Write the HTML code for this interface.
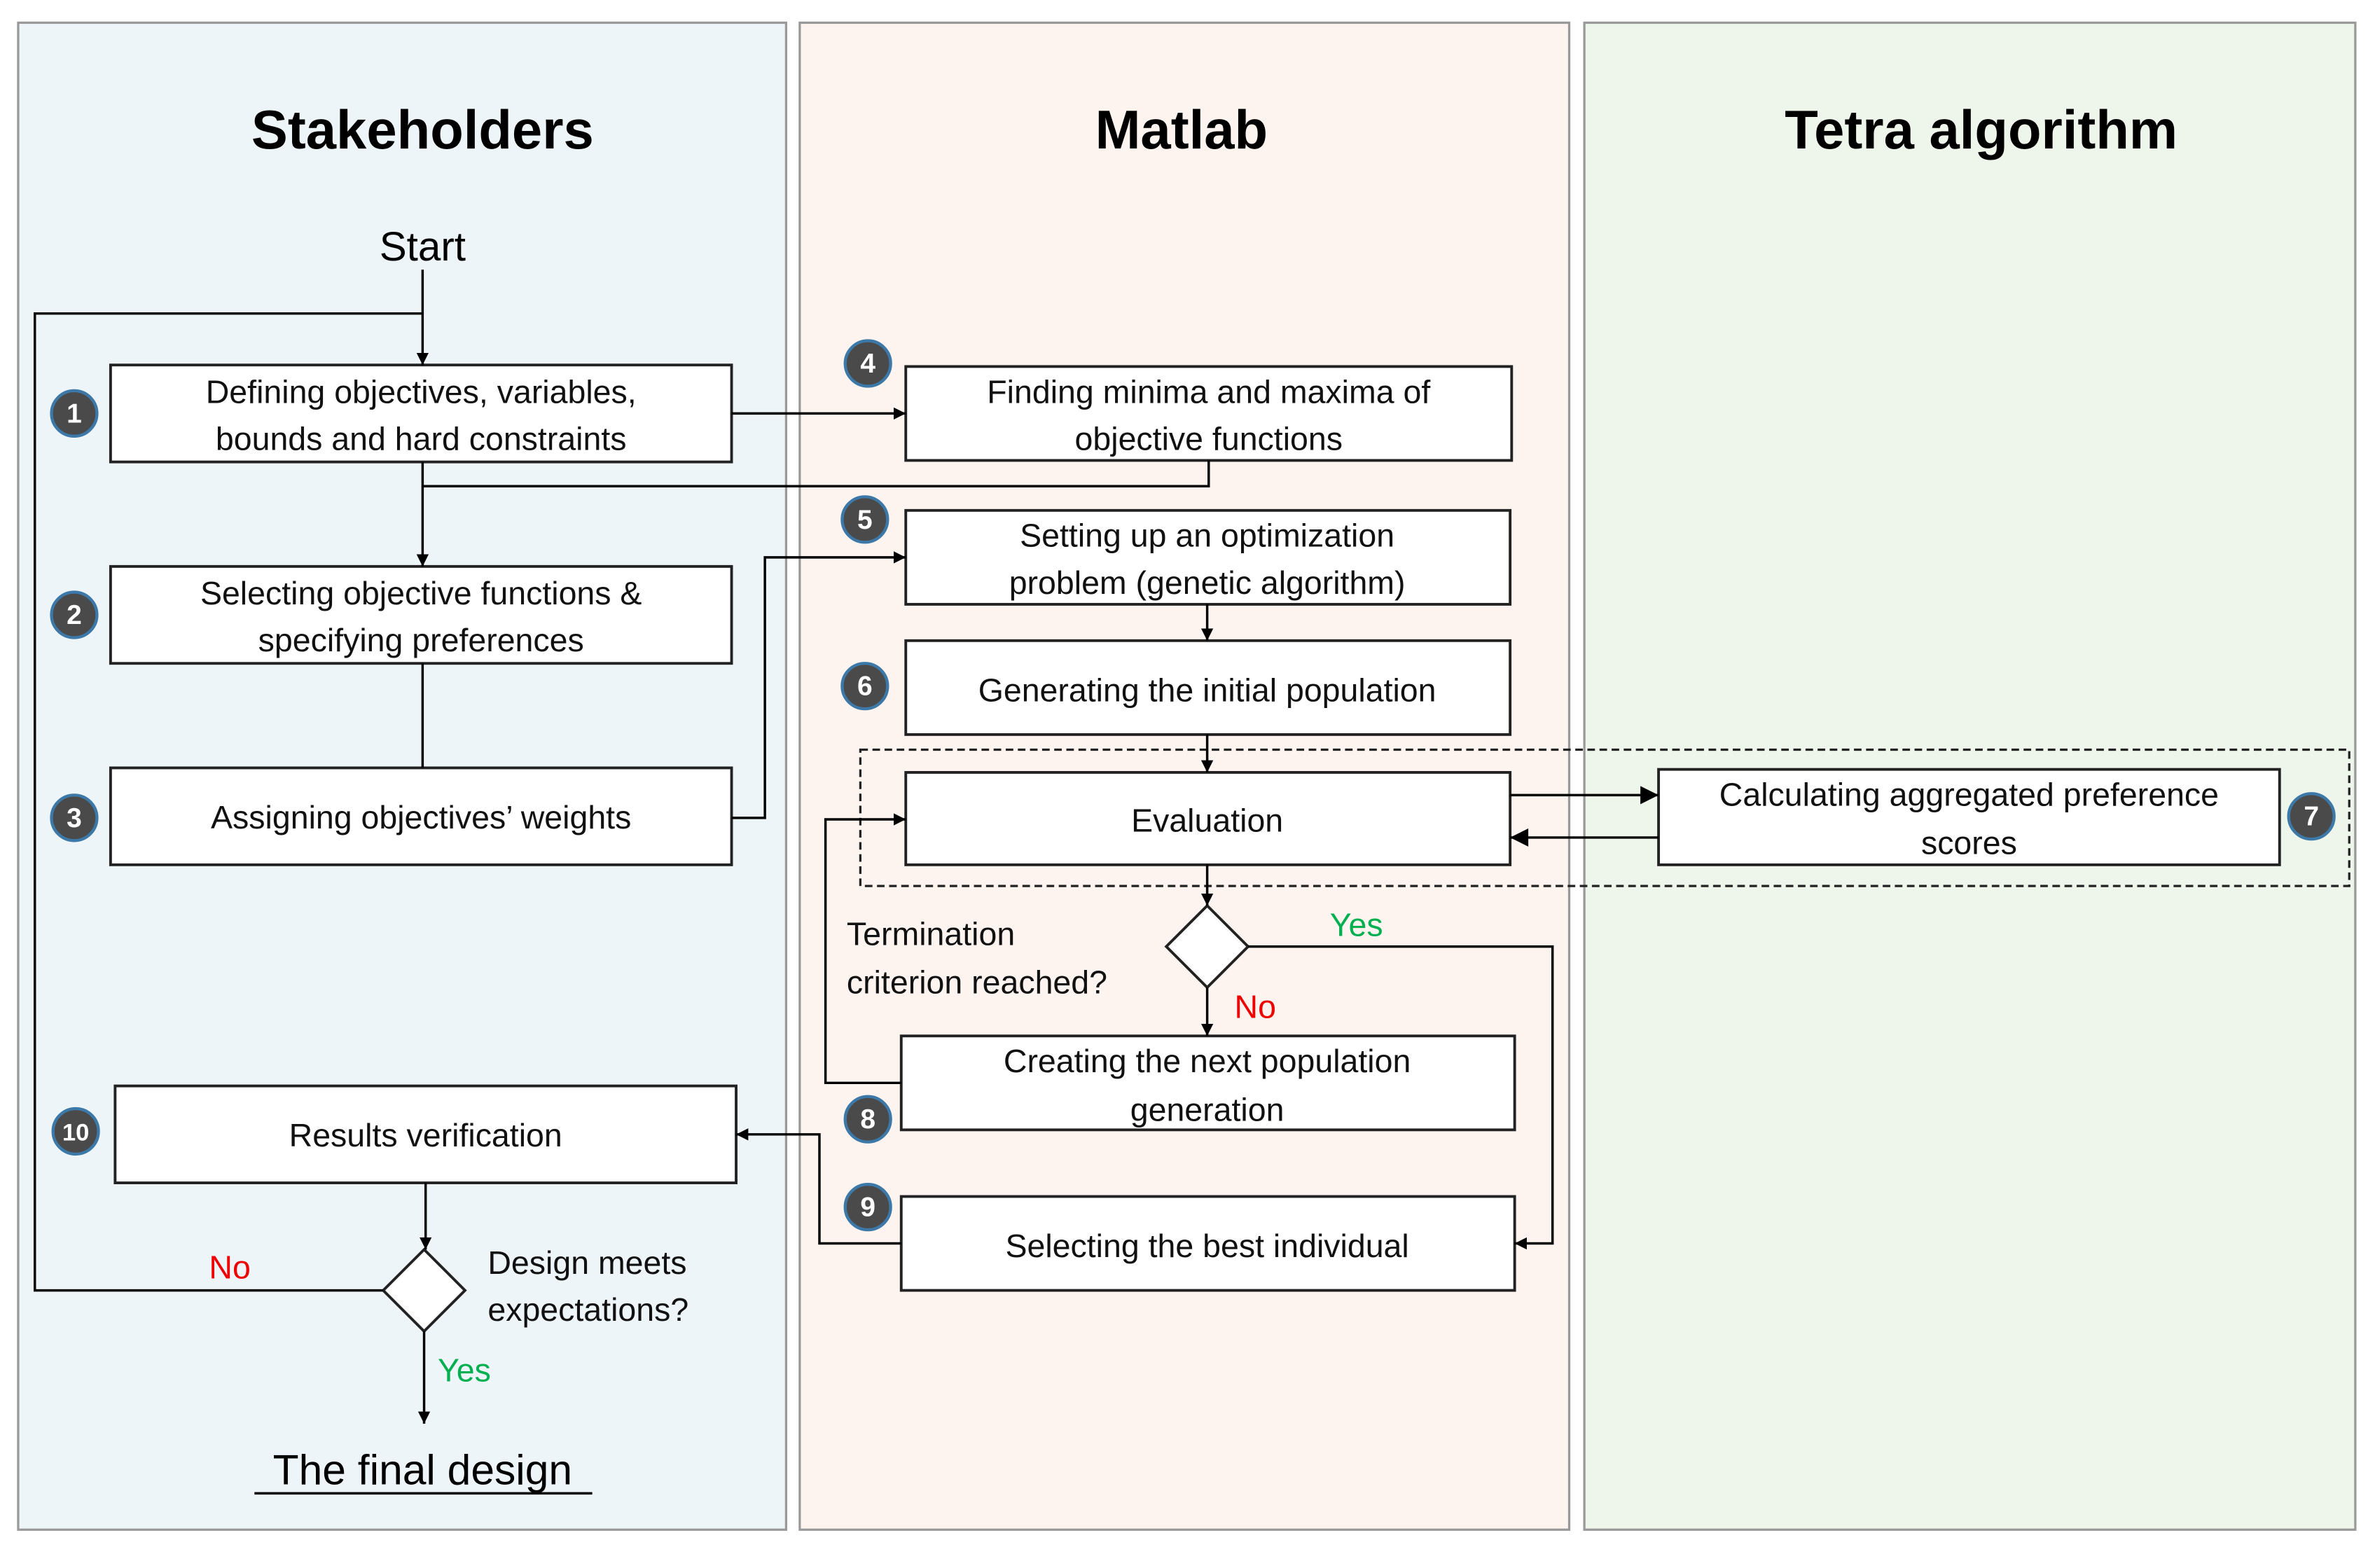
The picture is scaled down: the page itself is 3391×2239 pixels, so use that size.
<!DOCTYPE html>
<html><head><meta charset="utf-8"><style>html,body{margin:0;padding:0;background:#fff}svg{display:block}</style></head><body>
<svg width="3391" height="2239" viewBox="0 0 1568 1035.3" preserveAspectRatio="none" xmlns="http://www.w3.org/2000/svg" font-family="Liberation Sans, sans-serif">
<defs><marker id="a" viewBox="0 0 10 10" refX="10" refY="5" markerWidth="8" markerHeight="8" markerUnits="userSpaceOnUse" orient="auto"><path d="M0,0L10,5L0,10z" fill="#000"/></marker>
<marker id="b" viewBox="0 0 10 10" refX="10" refY="5" markerWidth="14" markerHeight="12" markerUnits="userSpaceOnUse" orient="auto"><path d="M0,0L10,5L0,10z" fill="#000"/></marker></defs>
<rect x="12" y="15" width="507" height="995" fill="#eef5f9" stroke="#999" stroke-width="1.5"/>
<rect x="528" y="15" width="508" height="995" fill="#fdf4ef" stroke="#999" stroke-width="1.5"/>
<rect x="1046" y="15" width="509" height="995" fill="#eef5ea" stroke="#999" stroke-width="1.5"/>
<g font-weight="bold" font-size="36" text-anchor="middle"><text x="279" y="98">Stakeholders</text><text x="780" y="98">Matlab</text><text x="1308" y="98">Tetra algorithm</text></g>
<text x="279" y="172" font-size="27" text-anchor="middle">Start</text>
<rect x="568" y="495" width="983" height="90" fill="none" stroke="#222" stroke-width="1.5" stroke-dasharray="5,3"/>
<g fill="#fff" stroke="#222" stroke-width="1.8">
<rect x="73" y="241" width="410" height="64"/><rect x="73" y="374" width="410" height="64"/><rect x="73" y="507" width="410" height="64"/>
<rect x="598" y="242" width="400" height="62"/><rect x="598" y="337" width="399" height="62"/><rect x="598" y="423" width="399" height="62"/>
<rect x="598" y="510" width="399" height="61"/><rect x="1095" y="508" width="410" height="63"/>
<rect x="595" y="684" width="405" height="62"/><rect x="595" y="790" width="405" height="62"/><rect x="76" y="717" width="410" height="64"/>
<path d="M797,598L824,625L797,652L770,625z"/><path d="M280,825L307,852L280,879L253,852z"/>
</g>
<g fill="none" stroke="#000" stroke-width="1.6">
<path d="M279,178V241" marker-end="url(#a)"/>
<path d="M279,207H23V852H253"/>
<path d="M483,273H598" marker-end="url(#a)"/>
<path d="M279,305V374" marker-end="url(#a)"/>
<path d="M798,304V321H279"/>
<path d="M279,438V507"/>
<path d="M483,540H505V368H598" marker-end="url(#a)"/>
<path d="M797,399V423" marker-end="url(#a)"/>
<path d="M797,485V510" marker-end="url(#a)"/>
<path d="M797,571V598" marker-end="url(#a)"/>
<path d="M797,652V684" marker-end="url(#a)"/>
<path d="M824,625H1025V821H1000" marker-end="url(#a)"/>
<path d="M997,525H1095" marker-end="url(#b)"/>
<path d="M1095,553H997" marker-end="url(#b)"/>
<path d="M595,715H545V541H598" marker-end="url(#a)"/>
<path d="M595,821H541V749H486" marker-end="url(#a)"/>
<path d="M281,781V825" marker-end="url(#a)"/>
<path d="M280,879V940" marker-end="url(#a)"/>
</g>
<g font-size="21.5" text-anchor="middle" fill="#111">
<text x="278" y="266">Defining objectives, variables,</text><text x="278" y="297">bounds and hard constraints</text>
<text x="278" y="399">Selecting objective functions &amp;</text><text x="278" y="430">specifying preferences</text>
<text x="278" y="547">Assigning objectives’ weights</text>
<text x="798" y="266">Finding minima and maxima of</text><text x="798" y="297">objective functions</text>
<text x="797" y="361">Setting up an optimization</text><text x="797" y="392">problem (genetic algorithm)</text>
<text x="797" y="463">Generating the initial population</text>
<text x="797" y="549">Evaluation</text>
<text x="1300" y="532">Calculating aggregated preference</text><text x="1300" y="564">scores</text>
<text x="797" y="708">Creating the next population</text><text x="797" y="740">generation</text>
<text x="797" y="830">Selecting the best individual</text>
<text x="281" y="757">Results verification</text>
</g>
<g font-size="21.5" fill="#111"><text x="559" y="624">Termination</text><text x="559" y="656">criterion reached?</text>
<text x="322" y="841">Design meets</text><text x="322" y="872">expectations?</text></g>
<g font-size="21.5"><text x="878" y="618" fill="#00b050">Yes</text><text x="815" y="672" fill="#e00">No</text>
<text x="289" y="912" fill="#00b050">Yes</text><text x="138" y="844" fill="#e00">No</text></g>
<text x="279" y="980" font-size="28" text-anchor="middle">The final design</text>
<line x1="168" y1="986" x2="391" y2="986" stroke="#000" stroke-width="1.6"/>
<g fill="#4a4a4a" stroke="#3c78a8" stroke-width="2">
<circle cx="49" cy="273" r="15"/><circle cx="49" cy="406" r="15"/><circle cx="49" cy="540" r="15"/><circle cx="573" cy="240" r="15"/><circle cx="571" cy="343" r="15"/><circle cx="571" cy="453" r="15"/><circle cx="1526" cy="539" r="15"/><circle cx="573" cy="739" r="15"/><circle cx="573" cy="797" r="15"/><circle cx="50" cy="747" r="15"/>
</g>
<g fill="#fff" font-size="18" font-weight="bold" text-anchor="middle">
<text x="49" y="279">1</text><text x="49" y="412">2</text><text x="49" y="546">3</text><text x="573" y="246">4</text><text x="571" y="349">5</text><text x="571" y="459">6</text><text x="1526" y="545">7</text><text x="573" y="745">8</text><text x="573" y="803">9</text><text x="50" y="753" font-size="16">10</text>
</g>
</svg>
</body></html>
